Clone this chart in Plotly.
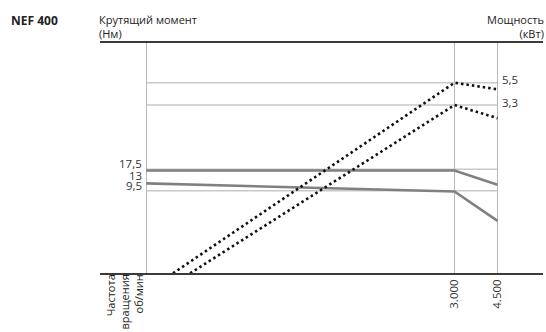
import plotly.graph_objects as go

# ---- data (schematic engine curve) ----
rpm_points = [164, 3000, 4500]              # left reference line, 3000, 4500 rpm
torque_upper = [17.0, 17.0, 11.7]            # Nm
torque_lower = [12.2, 9.2, -1.8]             # Nm
power_upper_rpm = [211, 3000, 4500]
power_upper = [-13.3, 5.5, 4.85]             # kW
power_lower_rpm = [248, 3000, 4500]
power_lower = [-13.3, 3.3, 2.0]              # kW

rpm_tick_vals = [164, 3000, 4500]
rpm_tick_text = ["", "3.000", "4.500"]
torque_labels = [17.5, 13, 9.5]
torque_grid = [17.5, 9.5]
power_labels = [5.5, 3.3]

FONT = "Open Sans"
W, H = 546, 332
L, R, T, B = 100, 3, 43, 59
NUM_SIZE = 11.5
TXT_SIZE = 11

def fmt(v):
    return ("%g" % v).replace(".", ",")

fig = go.Figure()

TORQUE_COL = "#808080"
fig.add_trace(go.Scatter(x=rpm_points, y=torque_upper, mode="lines",
                         line=dict(color=TORQUE_COL, width=2.6), yaxis="y"))
fig.add_trace(go.Scatter(x=rpm_points, y=torque_lower, mode="lines",
                         line=dict(color=TORQUE_COL, width=2.6), yaxis="y"))
fig.add_trace(go.Scatter(x=power_upper_rpm, y=power_upper, mode="lines",
                         line=dict(color="#111111", width=2.6, dash="2.5px,3px"), yaxis="y2"))
fig.add_trace(go.Scatter(x=power_lower_rpm, y=power_lower, mode="lines",
                         line=dict(color="#111111", width=2.6, dash="2.5px,3px"), yaxis="y2"))

shapes = []
for v in torque_grid:
    shapes.append(dict(type="line", xref="x", yref="y", x0=rpm_points[0], x1=rpm_points[-1],
                       y0=v, y1=v, line=dict(color="#c8c8c8", width=1.5), layer="below"))
for v in power_labels:
    shapes.append(dict(type="line", xref="x", yref="y2", x0=rpm_points[0], x1=rpm_points[-1],
                       y0=v, y1=v, line=dict(color="#c8c8c8", width=1.5), layer="below"))

plot_w = W - L - R
def px(xpix):
    return (xpix - L) / plot_w

ann = []
# title block (offsets in pixels above the top line)
ann.append(dict(text="<b>NEF 400</b>", xref="paper", yref="paper", x=px(9), y=1,
                xanchor="left", yanchor="middle", yshift=23, showarrow=False,
                font=dict(family=FONT, size=12, color="#222")))
ann.append(dict(text="Крутящий момент<br>(Нм)", xref="paper", yref="paper", x=px(98), y=1,
                xanchor="left", yanchor="bottom", yshift=1, align="left", showarrow=False,
                borderpad=0, font=dict(family=FONT, size=TXT_SIZE, color="#222")))
ann.append(dict(text="Мощность<br>(кВт)", xref="paper", yref="paper", x=px(545), y=1,
                xanchor="right", yanchor="bottom", yshift=1, align="right", showarrow=False,
                borderpad=0, font=dict(family=FONT, size=TXT_SIZE, color="#222")))
# torque value labels
for v in torque_labels:
    ann.append(dict(text=fmt(v), xref="paper", yref="y", x=px(143), y=v,
                    xanchor="right", yanchor="middle", yshift=5.5, showarrow=False,
                    borderpad=0, font=dict(family=FONT, size=NUM_SIZE, color="#333")))
# power value labels
for v in power_labels:
    ann.append(dict(text=fmt(v), xref="paper", yref="y2", x=px(501), y=v,
                    xanchor="left", yanchor="middle", yshift=3, showarrow=False,
                    borderpad=0, font=dict(family=FONT, size=NUM_SIZE, color="#333")))
# rotated axis caption
ann.append(dict(text="Частота<br>вращения<br>об/мин", xref="paper", yref="paper",
                x=px(101), y=0, xanchor="left", yanchor="top", yshift=-1,
                textangle=-90, align="right", showarrow=False, borderpad=0,
                font=dict(family=FONT, size=TXT_SIZE, color="#222")))

fig.update_layout(
    width=W, height=H,
    margin=dict(l=L, r=R, t=T, b=B, autoexpand=False),
    paper_bgcolor="white", plot_bgcolor="white",
    showlegend=False,
    shapes=shapes, annotations=ann,
    xaxis=dict(type="log", range=[2.0254, 3.8395], automargin=False,
               tickvals=rpm_tick_vals, ticktext=rpm_tick_text, tickangle=-90,
               tickfont=dict(family=FONT, size=NUM_SIZE, color="#333"),
               showgrid=True, gridcolor="#b8b8b8", gridwidth=1,
               showline=True, linecolor="#3a3a3a", linewidth=1.6, mirror=True,
               ticks="", zeroline=False, fixedrange=True),
    yaxis=dict(range=[-21.3, 64.7], showgrid=False, zeroline=False, automargin=False,
               showticklabels=False, showline=False, ticks=""),
    yaxis2=dict(range=[-13.27, 9.42], overlaying="y", side="right", showgrid=False,
                automargin=False, zeroline=False, showticklabels=False, showline=False, ticks=""),
)

fig.write_html("out.html", post_script="document.body.style.margin='0px';",
               config={"displayModeBar": False})
